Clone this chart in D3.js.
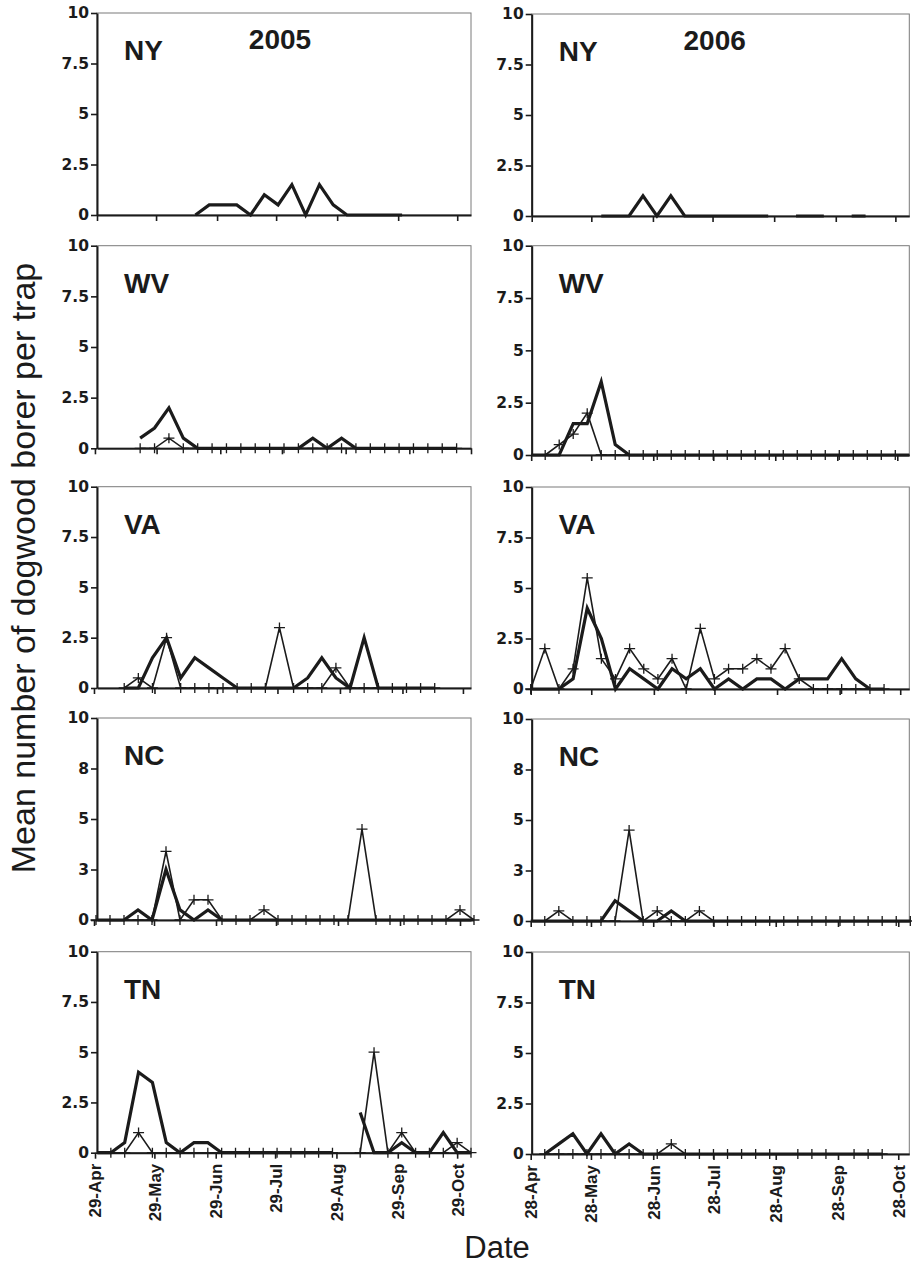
<!DOCTYPE html>
<html>
<head>
<meta charset="utf-8">
<script src="https://cdn.jsdelivr.net/npm/d3@7"></script>
<style>
  body { margin: 0; background: #fff; }
  svg { display: block; font-family: "Liberation Sans", Arial, Helvetica, sans-serif; }
</style>
</head>
<body>
<svg id="chart" width="912" height="1264"></svg>
<script>
const n = null;

// weekly trap check dates
const dates2005 = ["30-Apr", "7-May", "14-May", "21-May", "28-May", "4-Jun", "11-Jun", "18-Jun", "25-Jun", "2-Jul",
  "9-Jul", "16-Jul", "23-Jul", "30-Jul", "6-Aug", "13-Aug", "20-Aug", "27-Aug", "3-Sep", "10-Sep",
  "17-Sep", "24-Sep", "1-Oct", "8-Oct", "15-Oct", "22-Oct", "29-Oct", "5-Nov"];
const dates2006 = ["28-Apr", "5-May", "12-May", "19-May", "26-May", "2-Jun", "9-Jun", "16-Jun", "23-Jun", "30-Jun",
  "7-Jul", "14-Jul", "21-Jul", "28-Jul", "4-Aug", "11-Aug", "18-Aug", "25-Aug", "1-Sep", "8-Sep",
  "15-Sep", "22-Sep", "29-Sep", "6-Oct", "13-Oct", "20-Oct", "27-Oct", "3-Nov"];

const monthTicks2005 = ["29-Apr", "29-May", "29-Jun", "29-Jul", "29-Aug", "29-Sep", "29-Oct"];
const monthTicks2006 = ["28-Apr", "28-May", "28-Jun", "28-Jul", "28-Aug", "28-Sep", "28-Oct"];

const yTicks = [0, 2.5, 5, 7.5, 10];
const yTickLabels = ["0", "2.5", "5", "7.5", "10"];
const yTickLabelsNC = ["0", "3", "5", "8", "10"];

const states = ["NY", "WV", "VA", "NC", "TN"];
const years = ["2005", "2006"];

// heavy line (no markers)
const nyThick2005 = [n,n,n,n,n,n,n, 0,0.5,0.5,0.5,0,1,0.5,1.5,0,1.5,0.5,0,0,0,0,0, n,n,n,n,n];
const wvThick2005 = [n,n,n, 0.5,1,2,0.5, 0,0,0,0,0,0,0,0, 0.5,0,0.5, 0,0,0,0,0,0,0,0, n,n];
const vaThick2005 = [n,n, 0,0,1.5,2.5,0.5,1.5,1,0.5,0,0,0,0,0,0.5,1.5,0.5,0,2.5,0,0,0,0,0, n,n,n];
const ncThick2005 = [0,0,0,0.5,0,2.5,0.5,0,0.5,0, 0,0,0,0,0,0,0,0,0,0,0,0,0,0,0,0,0,0];
const tnThick2005 = [0,0,0.5,4,3.5,0.5,0,0.5,0.5,0, 0,0,0,0,0,0,0,0, n, 2,0,0,0.5,0,0,1,0,0];

const nyThick2006 = [n,n,n,n,n, 0,0,0,1,0,1,0, 0,0,0,0,0,0, n, 0,0,0, n, 0,0, n,n,n];
const wvThick2006 = [0,0,0,1.5,1.5,3.5,0.5,0, 0,0,0,0,0,0,0,0,0,0,0,0,0,0,0,0,0,0,0,0];
const vaThick2006 = [0,0,0,0.5,4,2.5,0,1,0.5,0,1,0.5,1,0,0.5,0,0.5,0.5,0,0.5,0.5,0.5,1.5,0.5,0,0, n,n];
const ncThick2006 = [0,0,0,0,0,0,1,0.5,0,0,0.5,0, 0,0,0,0,0,0,0,0,0,0,0,0,0,0,0,0];
const tnThick2006 = [n,0,0.5,1,0,1,0,0.5,0, 0,0,0,0,0,0,0,0,0,0,0,0,0,0,0,0,0, n,n];

// light line with + markers
const wvThin2005 = [n,n,n, 0,0,0.5, 0,0,0,0,0,0,0,0,0,0,0,0,0,0,0,0,0,0,0,0, n,n];
const vaThin2005 = [n,n, 0,0.5,0,2.5,0,0,0,0,0,0,0,3,0,0,0,1,0,0,0,0,0,0,0, n,n,n];
const ncThin2005 = [0,0,0,0,0, 3.4, 0, 1, 1, 0, 0, 0, 0.5, 0,0,0,0,0,0, 4.5, 0,0,0,0,0,0, 0.5, 0];
const tnThin2005 = [n, 0,0,1,0, 0,0,0,0,0,0,0,0,0,0,0,0,0, n, 0,5,0,1,0,0,0,0.5,0];

const wvThin2006 = [n, 0,0.5,1,2,0, 0,0,0,0,0,0,0,0,0,0,0,0,0,0,0,0,0,0,0,0,0, n];
const vaThin2006 = [0,2,0,1,5.5,1.5,0.5,2,1,0.5,1.5,0,3,0.5,1,1,1.5,1,2,0.5,0,0,0,0,0,0, n,n];
const ncThin2006 = [n,0,0.5,0,0,0,0,4.5,0,0.5,0,0,0.5, 0,0,0,0,0,0,0,0,0,0,0,0,0,0,0];
const tnThin2006 = [n, 0,0,0,0,0,0,0,0,0, 0.5, 0,0,0,0,0,0,0, n, 0,0,0, n, 0,0,0, n,n];

// ---- layout ----
const colX = [[97, 471], [531.7, 909.3]];
const rowY = [
  [[13, 215], [245.7, 448.3], [486.7, 688], [718, 920], [951.7, 1152.7]],
  [[14, 216], [245.7, 455], [487, 689], [719, 921], [952, 1154]]
];
// each excel panel had a slightly different date span
const xDomains = [
  [["2005-04-29T00:00", "2005-11-05T00:00"], ["2005-04-30T00:00", "2005-10-29T00:00"],
   ["2005-04-30T12:00", "2005-11-02T00:00"], ["2005-04-30T12:00", "2005-11-03T12:00"],
   ["2005-04-30T00:00", "2005-11-05T00:00"]],
  [["2006-04-28T00:00", "2006-11-04T00:00"], ["2006-04-28T06:00", "2006-11-03T00:00"],
   ["2006-04-28T12:00", "2006-11-01T12:00"], ["2006-04-28T12:00", "2006-11-02T12:00"],
   ["2006-04-28T12:00", "2006-11-02T12:00"]]
];

const thick = [
  [nyThick2005, wvThick2005, vaThick2005, ncThick2005, tnThick2005],
  [nyThick2006, wvThick2006, vaThick2006, ncThick2006, tnThick2006]
];
const thin = [
  [null, wvThin2005, vaThin2005, ncThin2005, tnThin2005],
  [null, wvThin2006, vaThin2006, ncThin2006, tnThin2006]
];
const sampleDates = [dates2005, dates2006];
const monthTicks = [monthTicks2005, monthTicks2006];

const parse = d3.timeParse("%d-%b-%Y");
const ink = "#1b1b1b";
const svg = d3.select("#chart");

years.forEach((year, col) => {
  const dates = sampleDates[col].map((s) => parse(`${s}-${year}`));
  const ticks = monthTicks[col].map((s) => parse(`${s}-${year}`));

  states.forEach((state, row) => {
    const [x0, x1] = colX[col];
    const [top, bottom] = rowY[col][row];
    const x = d3.scaleTime()
      .domain(xDomains[col][row].map((s) => new Date(s)))
      .range([x0, x1]);
    const y = d3.scaleLinear().domain([0, 10]).range([bottom, top]);
    const g = svg.append("g");

    // plot area frame (thin grey top/right)
    g.append("rect")
      .attr("x", x0).attr("y", top)
      .attr("width", x1 - x0).attr("height", bottom - top)
      .attr("fill", "none").attr("stroke", "#7a7a7a").attr("stroke-width", 1);

    const labels = state === "NC" ? yTickLabelsNC : yTickLabels;
    const ya = g.append("g")
      .attr("transform", `translate(${x0},0)`)
      .call(d3.axisLeft(y).tickValues(yTicks).tickSize(6).tickSizeOuter(0).tickPadding(2)
        .tickFormat((d, i) => labels[i]));
    ya.selectAll("text")
      .attr("fill", ink)
      .style("font-family", "'DejaVu Sans', sans-serif")
      .style("font-weight", "bold")
      .style("font-size", "15.5px");

    const xa = g.append("g")
      .attr("transform", `translate(0,${bottom})`)
      .call(d3.axisBottom(x).tickValues(ticks).tickSize(6).tickSizeOuter(0)
        .tickFormat(row === 4 ? d3.timeFormat("%d-%b") : ""));
    if (row === 4) {
      xa.selectAll("text")
        .attr("transform", "rotate(-90)")
        .attr("x", -11).attr("y", 0).attr("dy", "0.35em")
        .style("text-anchor", "end")
        .style("font-weight", "bold")
        .style("font-size", "17px")
        .attr("fill", ink);
    }
    [ya, xa].forEach((a) => {
      a.select(".domain").attr("stroke", ink).attr("stroke-width", 2);
      a.selectAll(".tick line").attr("stroke", ink).attr("stroke-width", 1.6);
    });

    const line = d3.line()
      .defined((d) => d.v != null)
      .x((d) => x(d.date))
      .y((d) => y(d.v));

    const heavy = thick[col][row].map((v, i) => ({ date: dates[i], v }));
    g.append("path")
      .datum(heavy)
      .attr("d", line)
      .attr("fill", "none")
      .attr("stroke", ink)
      .attr("stroke-width", 3.2);

    if (thin[col][row]) {
      const light = thin[col][row].map((v, i) => ({ date: dates[i], v }));
      g.append("path")
        .datum(light)
        .attr("d", line)
        .attr("fill", "none")
        .attr("stroke", ink)
        .attr("stroke-width", 1.6);
      g.selectAll(".plus")
        .data(light.filter((d) => d.v != null))
        .join("path")
        .attr("class", "plus")
        .attr("transform", (d) => `translate(${x(d.date)},${y(d.v)})`)
        .attr("d", "M-5.5,0H5.5M0,-5V5")
        .attr("stroke", ink)
        .attr("stroke-width", 1.3);
    }

    g.append("text")
      .attr("x", x0 + 27).attr("y", top + 47)
      .attr("fill", ink)
      .style("font-weight", "bold").style("font-size", "28px")
      .text(state);

    if (row === 0) {
      g.append("text")
        .attr("x", x0 + 183).attr("y", top + 36)
        .attr("text-anchor", "middle")
        .attr("fill", ink)
        .style("font-weight", "bold").style("font-size", "28px")
        .text(year);
    }
  });
});

svg.append("text")
  .attr("transform", "translate(35,568) rotate(-90)")
  .attr("text-anchor", "middle")
  .attr("fill", ink)
  .style("font-size", "34px")
  .text("Mean number of dogwood borer per trap");

svg.append("text")
  .attr("x", 497).attr("y", 1258)
  .attr("text-anchor", "middle")
  .attr("fill", ink)
  .style("font-size", "31px")
  .text("Date");
</script>
</body>
</html>
